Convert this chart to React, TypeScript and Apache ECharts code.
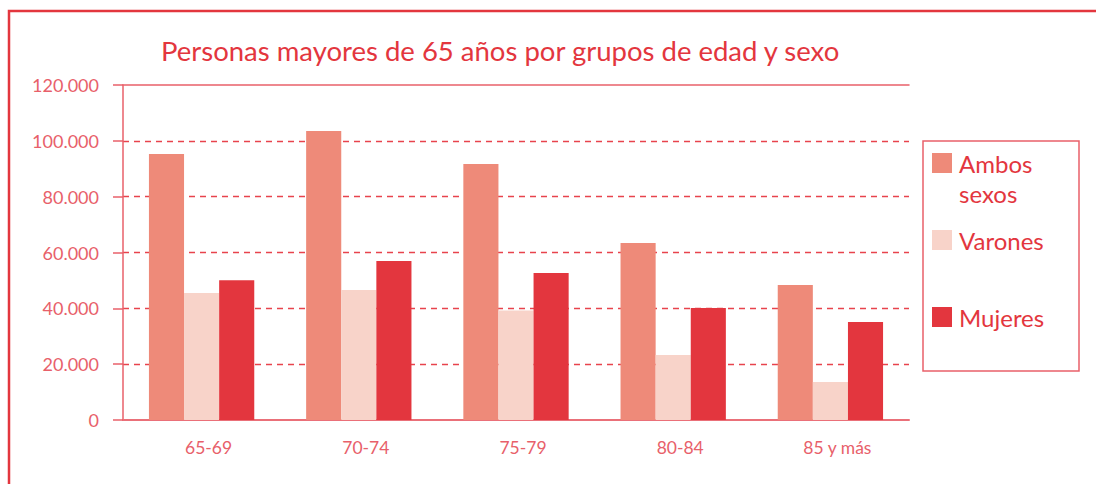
import React, { useEffect, useRef } from "react";
import * as echarts from "echarts";

const categories = ["65-69", "70-74", "75-79", "80-84", "85 y más"];
const ambos = [95300, 103500, 91700, 63400, 48400];
const varones = [45500, 46600, 39200, 23300, 13600];
const mujeres = [50100, 57000, 52700, 40100, 35100];
const seriesNames = ["Ambos sexos", "Varones", "Mujeres"];
const yTicks = { min: 0, max: 120000, interval: 20000 };

const RED = "#e3363e";
const LABEL = "#e8606a";
const GRIDRED = "#e8434d";
const NONE = "rgba(0,0,0,0)";
const FONT = "Lato, 'Open Sans', sans-serif";

function fmt(v: number): string {
  return String(Math.round(v)).replace(/\B(?=(\d{3})+(?!\d))/g, ".");
}

export default function App() {
  const ref = useRef<HTMLDivElement>(null);
  useEffect(() => {
    if (!ref.current) return;
    const chart = echarts.init(ref.current, null, { renderer: "svg" });
    chart.setOption({
      animation: false,
      backgroundColor: "#ffffff",
      title: {
        text: "Personas mayores de 65 años por grupos de edad y sexo",
        left: 156,
        top: 31,
        textStyle: { color: RED, fontFamily: FONT, fontSize: 27.5, fontWeight: "normal" },
      },
      grid: { left: 123, right: 187, top: 85, bottom: 64, containLabel: false },
      legend: {
        orient: "vertical",
        left: 932,
        top: 149,
        itemWidth: 20,
        itemHeight: 20,
        itemGap: 49,
        icon: "rect",
        padding: 0,
        textStyle: { color: RED, fontFamily: FONT, fontSize: 24, lineHeight: 28, padding: [0, 0, 0, 2] },
        formatter: (name: string) => (name === "Ambos sexos" ? "Ambos" : name),
        data: seriesNames,
      },
      xAxis: [
        {
          type: "category",
          data: categories,
          axisLine: { show: true, lineStyle: { color: "#ea7079", width: 2 } },
          axisTick: { show: false },
          axisLabel: {
            color: LABEL,
            fontFamily: FONT,
            fontSize: 17.5,
            margin: 18,
            padding: [0, 0, 0, 14],
          },
        },
        {
          type: "category",
          data: categories,
          position: "top",
          axisLine: { show: true, onZero: false, lineStyle: { color: "#e9606a", width: 1.5 } },
          axisTick: { show: false },
          axisLabel: { show: false },
          splitLine: { show: false },
        },
      ],
      yAxis: {
        type: "value",
        min: yTicks.min,
        max: yTicks.max,
        interval: yTicks.interval,
        axisLine: { show: true, lineStyle: { color: "#e9606a", width: 1.5 } },
        axisTick: { show: true, length: 10, lineStyle: { color: "#e9606a", width: 1.5 } },
        axisLabel: {
          color: LABEL,
          fontFamily: FONT,
          fontSize: 18,
          margin: 24,
          formatter: (v: number) => fmt(v),
        },
        splitLine: {
          show: true,
          lineStyle: {
            color: [NONE, GRIDRED, GRIDRED, GRIDRED, GRIDRED, GRIDRED, NONE],
            width: 1.3,
            type: [6, 5],
            opacity: 1,
          },
        },
      },
      graphic: [
        {
          type: "rect",
          shape: { x: 9, y: 11, width: 1300, height: 700 },
          style: { fill: "none", stroke: RED, lineWidth: 2.5 },
          silent: true,
        },
        {
          type: "rect",
          shape: { x: 923, y: 141, width: 156, height: 230 },
          style: { fill: "none", stroke: "#e9606a", lineWidth: 1.5 },
          silent: true,
        },
        {
          type: "text",
          x: 959,
          y: 193,
          style: {
            text: "sexos",
            fill: RED,
            font: "24px Lato, 'Open Sans', sans-serif",
            verticalAlign: "middle",
            align: "left",
          },
          silent: true,
        },
      ],
      series: [
        {
          name: seriesNames[0],
          type: "bar",
          data: ambos,
          barGap: "0%",
          barCategoryGap: "33%",
          itemStyle: { color: "#ee8a79" },
        },
        {
          name: seriesNames[1],
          type: "bar",
          data: varones,
          barGap: "0%",
          barCategoryGap: "33%",
          itemStyle: { color: "#f8d3c9" },
        },
        {
          name: seriesNames[2],
          type: "bar",
          data: mujeres,
          barGap: "0%",
          barCategoryGap: "33%",
          itemStyle: { color: RED },
        },
      ],
    });
    return () => chart.dispose();
  }, []);
  return (
    <div
      ref={ref}
      style={{ position: "fixed", left: 0, top: 0, width: 1096, height: 484 }}
    />
  );
}
